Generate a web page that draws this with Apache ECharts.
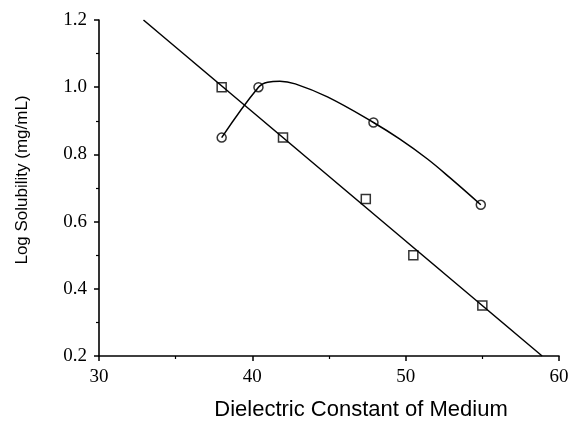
<!DOCTYPE html>
<html>
<head>
<meta charset="utf-8">
<script src="https://cdn.jsdelivr.net/npm/echarts@6/dist/echarts.min.js"></script>
<style>html,body{margin:0;padding:0;background:#fff;}#c{width:576px;height:428px;}</style>
</head>
<body>
<div id="c"></div>
<script>
// Squares (measured points)
const squareX = [38, 42, 47.4, 50.5, 55];
const squareY = [1.0, 0.85, 0.667, 0.5, 0.35];
// Circles (measured points)
const circleX = [38, 40.4, 47.9, 54.9];
const circleY = [0.85, 1.0, 0.895, 0.65];
// Straight fitted line through squares (endpoints)
const fitX = [32.9, 58.9];
const fitY = [1.2, 0.2];
// Fitted curve through circles
const curveX = [38.0, 40.4, 41.0, 41.8, 42.8, 44.9, 47.9, 49.6, 51.4, 52.9, 54.9];
const curveY = [0.85, 1.0, 1.015, 1.018, 1.01, 0.971, 0.895, 0.846, 0.787, 0.73, 0.65];
// Axis tick labels
const xTicks = [30, 40, 50, 60];
const yTicks = [0.2, 0.4, 0.6, 0.8, 1.0, 1.2];

const zip = (a, b) => a.map((v, i) => [v, b[i]]);
const chart = echarts.init(document.getElementById('c'), null, {renderer: 'canvas'});
const black = '#000';
chart.setOption({
  backgroundColor: '#fff',
  animation: false,
  grid: {left: 99, right: 17, top: 20, bottom: 72, containLabel: false},
  xAxis: {
    type: 'value', min: xTicks[0], max: xTicks[xTicks.length - 1], interval: 10,
    name: 'Dielectric Constant of Medium', nameLocation: 'middle', nameGap: 43,
    nameTextStyle: {fontFamily: 'Liberation Sans', fontSize: 22, color: black, padding: [0, 0, 0, 64]},
    axisLine: {show: true, lineStyle: {color: black, width: 1.6}},
    axisTick: {show: true, inside: false, length: 5, lineStyle: {color: black, width: 1.5}},
    minorTick: {show: true, splitNumber: 2, length: 3, lineStyle: {color: black, width: 1.2}},
    axisLabel: {fontFamily: 'Liberation Serif', fontSize: 19, color: black, margin: 12,
      formatter: v => xTicks.includes(v) ? String(v) : ''},
    splitLine: {show: false}
  },
  yAxis: {
    type: 'value', min: yTicks[0], max: yTicks[yTicks.length - 1], interval: 0.2,
    name: 'Log Solubility (mg/mL)', nameLocation: 'middle', nameGap: 68,
    nameTextStyle: {fontFamily: 'Liberation Sans', fontSize: 17, color: black, padding: [0, 0, 0, 16]},
    axisLine: {show: true, lineStyle: {color: black, width: 1.6}},
    axisTick: {show: true, inside: false, length: 5, lineStyle: {color: black, width: 1.5}},
    minorTick: {show: true, splitNumber: 2, length: 3, lineStyle: {color: black, width: 1.2}},
    axisLabel: {fontFamily: 'Liberation Serif', fontSize: 19, color: black, margin: 12,
      formatter: v => v.toFixed(1)},
    splitLine: {show: false}
  },
  series: [
    {type: 'line', data: zip(fitX, fitY), showSymbol: false, symbol: 'none',
      lineStyle: {color: black, width: 1.5}, silent: true, z: 2},
    {type: 'line', data: zip(curveX, curveY), showSymbol: false, symbol: 'none', smooth: 0.4,
      lineStyle: {color: black, width: 1.5}, silent: true, z: 2},
    {type: 'scatter', data: zip(squareX, squareY), symbol: 'rect', symbolSize: 9,
      itemStyle: {color: 'rgba(255,255,255,0)', borderColor: black, borderWidth: 1.5}, z: 3},
    {type: 'scatter', data: zip(circleX, circleY), symbol: 'circle', symbolSize: 9,
      itemStyle: {color: 'rgba(255,255,255,0)', borderColor: black, borderWidth: 1.5}, z: 3}
  ]
});
</script>
</body>
</html>
